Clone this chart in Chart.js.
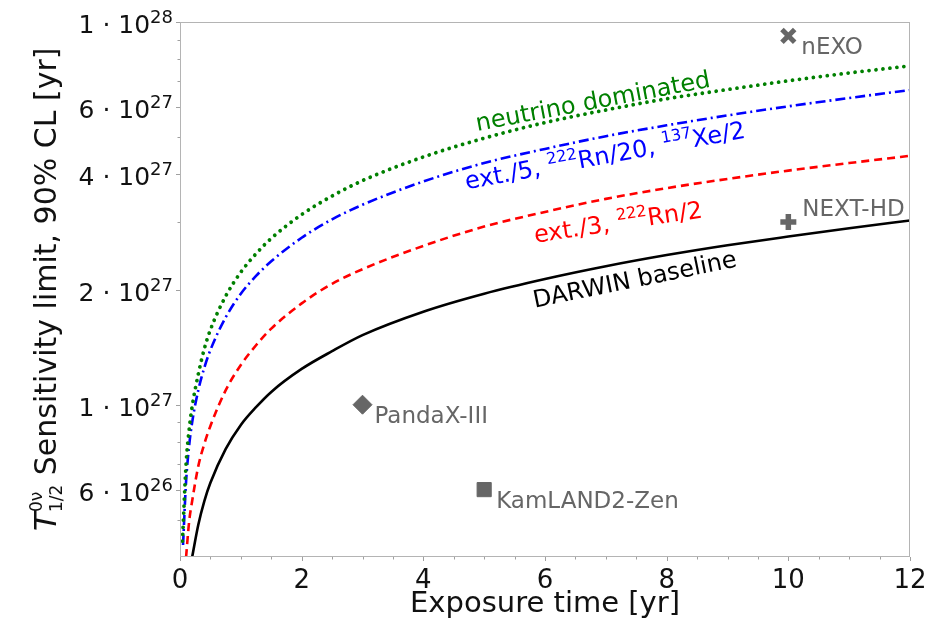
<!DOCTYPE html>
<html><head><meta charset="utf-8">
<script src="https://cdn.jsdelivr.net/npm/chart.js@4.4.1/dist/chart.umd.min.js"></script>
<style>html,body{margin:0;padding:0;background:#fff;}canvas{display:block;}</style>
</head><body>
<canvas id="c" width="944" height="623"></canvas>
<script>
// ---------- data ----------
const darwinYears = [0.2,0.3,0.4,0.5,0.75,1,1.25,1.5,2,2.5,3,4,5,6,7,8,9,10,11,12];
const darwinLimit = [4.0e26,4.85e26,5.6e26,6.25e26,7.65e26,8.85e26,9.85e26,1.08e27,1.24e27,1.38e27,1.52e27,1.75e27,1.95e27,2.13e27,2.30e27,2.46e27,2.61e27,2.75e27,2.89e27,3.03e27];

const ext3Years = [0.1,0.15,0.2,0.3,0.4,0.5,0.75,1,1.25,1.5,2,2.5,3,4,5,6,7,8,9,10,11,12];
const ext3Limit = [4.0e26,4.95e26,5.6e26,6.9e26,7.9e26,8.8e26,1.09e27,1.27e27,1.43e27,1.58e27,1.84e27,2.07e27,2.26e27,2.60e27,2.92e27,3.19e27,3.45e27,3.68e27,3.89e27,4.09e27,4.28e27,4.47e27];

const ext5Years = [0.05,0.1,0.15,0.2,0.3,0.4,0.5,0.75,1,1.25,1.5,2,2.5,3,4,5,6,7,8,9,10,11,12];
const ext5Limit = [4.3e26,6.3e26,7.8e26,9.0e26,1.09e27,1.25e27,1.39e27,1.69e27,1.95e27,2.17e27,2.37e27,2.73e27,3.05e27,3.33e27,3.83e27,4.28e27,4.66e27,5.03e27,5.37e27,5.70e27,6.02e27,6.33e27,6.64e27];

const nuYears = [0.04,0.1,0.15,0.2,0.3,0.4,0.5,0.75,1,1.25,1.5,2,2.5,3,4,5,6,7,8,9,10,11,12];
const nuLimit = [4.4e26,7.0e26,8.6e26,9.9e26,1.20e27,1.40e27,1.57e27,1.92e27,2.22e27,2.48e27,2.72e27,3.14e27,3.51e27,3.85e27,4.44e27,4.97e27,5.46e27,5.89e27,6.30e27,6.66e27,7.02e27,7.36e27,7.68e27];

const expNames = ['nEXO','NEXT-HD','PandaX-III','KamLAND2-Zen'];
const expYears = [10,10,3,5];
const expLimit = [9.2e27,3.0e27,1.0e27,6.0e26];
const expMarkers = ['crossRot','cross','rectRot','rect'];

const xTickValues = [0,2,4,6,8,10,12];
const xMinorValues = [0.5,1,1.5,2.5,3,3.5,4.5,5,5.5,6.5,7,7.5,8.5,9,9.5,10.5,11,11.5];
const yTickValues = [6e26,1e27,2e27,4e27,6e27,1e28];
const yTickMantissa = ['6','1','2','4','6','1'];
const yTickExponent = ['26','27','27','27','27','28'];
const yMinorValues = [5e26,7e26,8e26,9e26,3e27,5e27,7e27,8e27,9e27];

// curve label anchors (data coordinates)
const curveLabels = [
  {parts:[{t:'neutrino dominated'}], x:6.81, y:5.93e27, angle:-10.7, color:'#008000'},
  {parts:[{t:'ext./5, '},{t:'222',sup:true},{t:'Rn/20, '},{t:'137',sup:true},{t:'Xe/2'}], x:7.01, y:4.27e27, angle:-10.5, color:'#0000ff'},
  {parts:[{t:'ext./3, '},{t:'222',sup:true},{t:'Rn/2'}], x:7.22, y:2.86e27, angle:-8.6, color:'#ff0000'},
  {parts:[{t:'DARWIN baseline'}], x:7.5, y:2.03e27, angle:-11.5, color:'#000000'}
];

// ---------- helpers ----------
const FAM = '"DejaVu Sans", sans-serif';
function fnt(size, italic){ return (italic?'italic ':'') + size + 'px ' + FAM; }
function pts(xs, ys){ return xs.map((x,i)=>({x:x, y:ys[i]})); }

function drawParts(ctx, parts, x, y, align){
  const widths = parts.map(p=>{
    if(p.stack){ ctx.font=fnt(p.size); return Math.max(ctx.measureText(p.sup).width, ctx.measureText(p.sub).width); }
    ctx.font=fnt(p.size,p.italic); return ctx.measureText(p.t).width;
  });
  const total = widths.reduce((a,b)=>a+b,0);
  let cx = align==='right' ? x-total : (align==='center' ? x-total/2 : x);
  ctx.textAlign='left'; ctx.textBaseline='alphabetic';
  parts.forEach((p,i)=>{
    if(p.stack){
      ctx.font=fnt(p.size);
      ctx.fillText(p.sup, cx, y+p.supDy);
      ctx.fillText(p.sub, cx, y+p.subDy);
    } else {
      ctx.font=fnt(p.size,p.italic);
      ctx.fillText(p.t, cx, y+(p.dy||0));
    }
    cx += widths[i];
  });
}

const decor = {
  id:'decor',
  afterDraw(chart){
    const ctx = chart.ctx, a = chart.chartArea;
    const xs = chart.scales.x, ys = chart.scales.y;
    ctx.save();
    // frame
    ctx.strokeStyle = '#b4b4b4'; ctx.lineWidth = 1;
    ctx.strokeRect(a.left+0.5, a.top+0.5, a.right-a.left-1, a.bottom-a.top-1);
    // ticks
    ctx.strokeStyle = '#a0a0a0'; ctx.lineWidth = 1;
    ctx.beginPath();
    xTickValues.forEach(v=>{ const px=Math.round(xs.getPixelForValue(v))+0.5; ctx.moveTo(px,a.bottom); ctx.lineTo(px,a.bottom+4); });
    xMinorValues.forEach(v=>{ const px=Math.round(xs.getPixelForValue(v))+0.5; ctx.moveTo(px,a.bottom); ctx.lineTo(px,a.bottom+2.5); });
    yTickValues.forEach(v=>{ const py=Math.round(ys.getPixelForValue(v))+0.5; ctx.moveTo(a.left,py); ctx.lineTo(a.left-4,py); });
    yMinorValues.forEach(v=>{ const py=Math.round(ys.getPixelForValue(v))+0.5; ctx.moveTo(a.left,py); ctx.lineTo(a.left-2.5,py); });
    ctx.stroke();

    // x tick labels
    ctx.fillStyle = '#111';
    ctx.font = fnt(26); ctx.textAlign='center'; ctx.textBaseline='alphabetic';
    xTickValues.forEach(v=>{ ctx.fillText(String(v), xs.getPixelForValue(v), a.bottom+31); });
    // y tick labels
    yTickValues.forEach((v,i)=>{
      const py = ys.getPixelForValue(v);
      drawParts(ctx, [{t:yTickMantissa[i]+' \u00b7 10', size:25},{t:yTickExponent[i], size:18, dy:-10}], a.left-7, py+11, 'right');
    });
    // x title
    ctx.font = fnt(29); ctx.textAlign='center';
    ctx.fillText('Exposure time [yr]', (a.left+a.right)/2, 612);
    // y title
    ctx.save();
    ctx.translate(56, 531); ctx.rotate(-Math.PI/2);
    drawParts(ctx, [
      {t:'T', size:31, italic:true},
      {stack:true, sup:'0\u03bd', sub:'1/2', size:17, supDy:-14, subDy:6},
      {t:' Sensitivity limit, 90% CL [yr]', size:30}
    ], 0, 0, 'left');
    ctx.restore();

    // curve labels
    curveLabels.forEach(L=>{
      const px = xs.getPixelForValue(L.x), py = ys.getPixelForValue(L.y);
      ctx.save();
      ctx.translate(px, py); ctx.rotate(L.angle*Math.PI/180);
      ctx.fillStyle = L.color;
      drawParts(ctx, L.parts.map(p=>p.sup?{t:p.t,size:16,dy:-10}:{t:p.t,size:24}), 0, 0, 'center');
      ctx.restore();
    });

    // experiment labels
    const offs = [[13,18],[14,-6],[12,18],[12,18]];
    ctx.fillStyle = '#666'; ctx.font = fnt(23); ctx.textAlign='left';
    expNames.forEach((n,i)=>{
      const px = xs.getPixelForValue(expYears[i]), py = ys.getPixelForValue(expLimit[i]);
      ctx.fillText(n, px+offs[i][0], py+offs[i][1]);
    });
    ctx.restore();
  }
};

const lineBase = {type:'line', pointRadius:0, fill:false, cubicInterpolationMode:'monotone', borderJoinStyle:'round'};

const chart = new Chart(document.getElementById('c'), {
  type:'line',
  data:{
    datasets:[
      Object.assign({}, lineBase, {label:'neutrino dominated', data:pts(nuYears,nuLimit), borderColor:'#008000', borderWidth:3.8, borderDash:[0.01,7], borderCapStyle:'round'}),
      Object.assign({}, lineBase, {label:'ext./5', data:pts(ext5Years,ext5Limit), borderColor:'#0000ff', borderWidth:2.6, borderDash:[10,4,2,4]}),
      Object.assign({}, lineBase, {label:'ext./3', data:pts(ext3Years,ext3Limit), borderColor:'#ff0000', borderWidth:2.6, borderDash:[8,5]}),
      Object.assign({}, lineBase, {label:'DARWIN baseline', data:pts(darwinYears,darwinLimit), borderColor:'#000000', borderWidth:2.6}),
      ...expNames.map((n,i)=>({
        type:'scatter', label:n, data:[{x:expYears[i], y:expLimit[i]}],
        pointStyle: expMarkers[i],
        pointRadius: [9,8,9.5,10][i],
        borderWidth: [5,5.5,1,1][i],
        borderColor:'#666666', backgroundColor:'#666666', clip:false
      }))
    ]
  },
  options:{
    responsive:false, devicePixelRatio:1, animation:false,
    layout:{padding:{top:22,right:34,left:0,bottom:0}},
    plugins:{legend:{display:false}, tooltip:{enabled:false}},
    scales:{
      x:{type:'linear', min:0, max:12, grid:{display:false}, border:{display:false}, ticks:{display:false},
         afterFit(s){ s.height = 66; }},
      y:{type:'logarithmic', min:4e26, max:1e28, grid:{display:false}, border:{display:false}, ticks:{display:false},
         afterFit(s){ s.width = 180; }}
    }
  },
  plugins:[decor]
});
</script>
</body></html>
